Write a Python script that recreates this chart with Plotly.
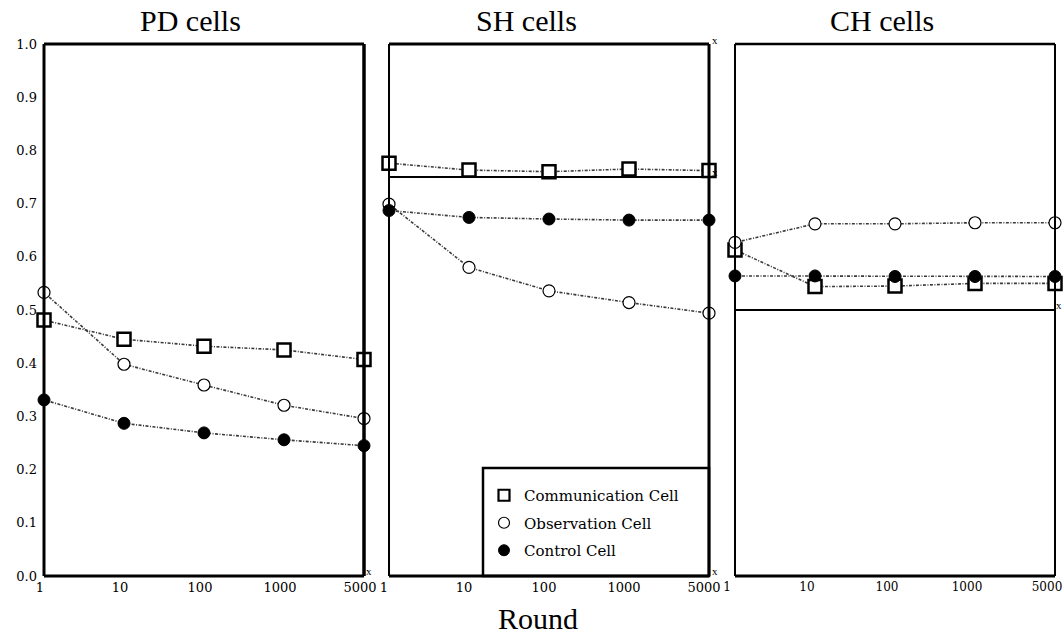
import plotly.graph_objects as go

# ---------------- data ----------------
rounds = ["1", "10", "100", "1000", "5000"]
panels = ["PD cells", "SH cells", "CH cells"]

pd_comm = [0.481, 0.445, 0.432, 0.425, 0.407]
pd_obs = [0.533, 0.398, 0.359, 0.321, 0.296]
pd_ctrl = [0.331, 0.287, 0.269, 0.256, 0.245]

sh_comm = [0.776, 0.763, 0.760, 0.765, 0.762]
sh_obs = [0.699, 0.580, 0.536, 0.514, 0.494]
sh_ctrl = [0.687, 0.674, 0.671, 0.669, 0.669]

ch_comm = [0.613, 0.544, 0.545, 0.550, 0.550]
ch_obs = [0.627, 0.662, 0.662, 0.664, 0.664]
ch_ctrl = [0.564, 0.564, 0.563, 0.563, 0.563]

ref_lines = [None, 0.75, 0.5]  # horizontal reference lines per panel

series_names = ["Communication Cell", "Observation Cell", "Control Cell"]
y_ticks = [0.0, 0.1, 0.2, 0.3, 0.4, 0.5, 0.6, 0.7, 0.8, 0.9, 1.0]

data = [
    [pd_comm, pd_obs, pd_ctrl],
    [sh_comm, sh_obs, sh_ctrl],
    [ch_comm, ch_obs, ch_ctrl],
]

# ---------------- styling ----------------
W, H = 1063, 635
SERIF = "Liberation Serif"
TICKFONT = "DejaVu Serif"
px_x = [(44, 364), (389, 709), (735, 1055)]
px_top, px_bot = 44, 576
label_shift = [-4, -5, -8]
label_size = [13, 13, 12]

def fx(p):
    return p / W

def fy(p):
    return 1 - p / H

marker_styles = [
    dict(symbol="square", size=13, color="white", line=dict(color="black", width=2.5)),
    dict(symbol="circle", size=12, color="white", line=dict(color="black", width=1.2)),
    dict(symbol="circle", size=12, color="black", line=dict(color="black", width=1)),
]
line_style = dict(color="#3a3a3a", width=1.6, dash="3px,1.5px,1px,1.5px")

fig = go.Figure()

for i in range(3):
    xa = "x" if i == 0 else f"x{i+1}"
    ya = "y" if i == 0 else f"y{i+1}"
    for j in range(3):
        fig.add_trace(go.Scatter(
            x=rounds, y=data[i][j], mode="lines+markers",
            line=line_style, marker=marker_styles[j],
            xaxis=xa, yaxis=ya, showlegend=False, cliponaxis=False,
            name=series_names[j], hoverinfo="skip",
        ))

# legend-only traces (markers only)
leg_markers = [
    dict(symbol="square", size=11, color="white", line=dict(color="black", width=2.2)),
    dict(symbol="circle", size=11, color="white", line=dict(color="black", width=1.2)),
    dict(symbol="circle", size=11, color="black", line=dict(color="black", width=1)),
]
for j in range(3):
    fig.add_trace(go.Scatter(
        x=[None], y=[None], mode="markers", marker=leg_markers[j],
        name=series_names[j], legendgroup=f"g{j}", showlegend=True,
        xaxis="x2", yaxis="y2",
    ))

layout = dict(
    template="none",
    width=W, height=H,
    margin=dict(l=0, r=0, t=0, b=0, autoexpand=False),
    paper_bgcolor="white", plot_bgcolor="white",
    font=dict(family=SERIF, color="black", size=14),
    legend=dict(
        x=fx(484), y=fy(479), xanchor="left", yanchor="top",
        bgcolor="rgba(0,0,0,0)", borderwidth=0,
        font=dict(family=TICKFONT, size=15, color="black"),
        tracegroupgap=5, itemwidth=30,
    ),
)
for i in range(3):
    sfx = "" if i == 0 else str(i + 1)
    layout["xaxis" + sfx] = dict(
        domain=[fx(px_x[i][0]), fx(px_x[i][1])],
        type="category", range=[0, 4],
        showgrid=False, zeroline=False, showline=False, ticks="",
        tickfont=dict(family=TICKFONT, size=label_size[i]),
        ticklabelshift=label_shift[i], ticklabelstandoff=2,
        anchor="y" + sfx, fixedrange=True, automargin=False,
    )
    layout["yaxis" + sfx] = dict(
        domain=[fy(px_bot), fy(px_top)],
        range=[0, 1], showgrid=False, zeroline=False, showline=False,
        ticks="", tickvals=y_ticks, tickformat=".1f",
        showticklabels=(i == 0),
        tickfont=dict(family=TICKFONT, size=13),
        ticklabelstandoff=6,
        anchor="x" + sfx, fixedrange=True, automargin=False,
    )
fig.update_layout(**layout)

# panel borders
widths = [
    dict(left=3, right=3.5, top=3, bottom=3),
    dict(left=2, right=3, top=3, bottom=3),
    dict(left=2, right=2, top=2.5, bottom=3),
]
for i in range(3):
    sfx = "" if i == 0 else str(i + 1)
    xr, yr = f"x{sfx} domain", f"y{sfx} domain"
    w = widths[i]
    fig.add_shape(type="line", xref=xr, yref=yr, x0=0, x1=0, y0=0, y1=1, line=dict(color="black", width=w["left"]))
    fig.add_shape(type="line", xref=xr, yref=yr, x0=1, x1=1, y0=0, y1=1, line=dict(color="black", width=w["right"]))
    fig.add_shape(type="line", xref=xr, yref=yr, x0=0, x1=1, y0=1, y1=1, line=dict(color="black", width=w["top"]))
    fig.add_shape(type="line", xref=xr, yref=yr, x0=0, x1=1, y0=0, y1=0, line=dict(color="black", width=w["bottom"]))
    if ref_lines[i] is not None:
        fig.add_shape(type="line", xref=xr, yref=f"y{sfx}", x0=0, x1=1,
                      y0=ref_lines[i], y1=ref_lines[i], line=dict(color="black", width=2))

# legend box in SH panel
fig.add_shape(type="rect", xref="paper", yref="paper",
              x0=fx(483), x1=fx(709), y0=fy(576), y1=fy(468),
              line=dict(color="black", width=2.5), fillcolor="rgba(0,0,0,0)")

# titles
title_x = [190, 526, 882]
for i in range(3):
    fig.add_annotation(text=panels[i], x=fx(title_x[i]), y=fy(21), xref="paper", yref="paper",
                       showarrow=False, font=dict(family=SERIF, size=30, color="black"),
                       xanchor="center", yanchor="middle")

fig.add_annotation(text="Round", x=fx(538), y=fy(618), xref="paper", yref="paper",
                   showarrow=False, font=dict(family=SERIF, size=30, color="black"),
                   xanchor="center", yanchor="middle")

# small 'x' marks
for (mx, my) in [(369, 571), (715, 40), (715, 571), (715, 172), (1059, 305)]:
    fig.add_annotation(text="x", x=fx(mx), y=fy(my), xref="paper", yref="paper",
                       showarrow=False, font=dict(family=SERIF, size=11, color="black"),
                       xanchor="center", yanchor="middle")

fig.write_html(
    "out.html",
    config={"displayModeBar": False},
    post_script="document.body.style.margin='0';document.body.style.overflow='hidden';",
)
